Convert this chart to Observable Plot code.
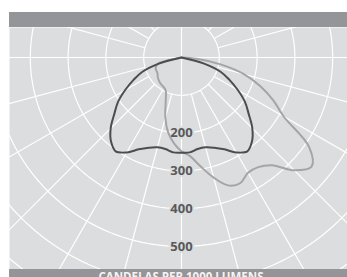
<!DOCTYPE html>
<html>
<head>
<meta charset="utf-8">
<script src="https://cdn.jsdelivr.net/npm/d3@7"></script>
<script src="https://cdn.jsdelivr.net/npm/@observablehq/plot@0.6"></script>
<style>
  html, body { margin: 0; padding: 0; background: #ffffff; }
  #wrap { position: relative; width: 347px; height: 277px; overflow: hidden; }
  #topband { position: absolute; left: 9px; top: 12px; width: 338px; height: 15px; background: #939598; }
  #botband { position: absolute; left: 9px; top: 269px; width: 338px; height: 8px; background: #939598; overflow: hidden; }
  #botband span { position: absolute; left: 0; width: 344px; top: 1.5px; text-align: center; color: #f4f4f4;
    font: 700 11.5px/12px "Open Sans", sans-serif; white-space: nowrap; }
  #chart { position: absolute; left: 0; top: 0; }
</style>
</head>
<body>
<div id="wrap">
  <div id="chart"></div>
  <div id="topband"></div>
  <div id="botband"><span id="unit"></span></div>
</div>
<script>
// Angle from nadir (degrees, negative = left) and candela per 1000 lumens
const angles = [-90,-85,-80,-75,-70,-65,-60,-55,-50,-45,-40,-35,-30,-25,-20,-15,-10,-5,0,5,10,15,20,25,30,35,40,45,50,55,60,65,70,75,80,85,90];
const darkCd = [0,0,0,62,110,140,172,205,232,265,290,303,290,268,254,246,246,252,252,252,246,246,254,268,290,303,290,265,232,205,172,140,110,62,0,0,0];
const lightCd = [0,0,0,66,72,75,75,77,82,85,88,90,92,98,122,165,202,228,248,262,293,329,360,367,352,354,372,422,449,412,312,268,222,172,105,40,0];
const ringValues = [100,200,300,400,500,600,700];
const ringLabels = [200,300,400,500];
const spokeStep = 15;
const unitText = "CANDELAS PER 1000 LUMENS";

const rad = Math.PI / 180;
const toXY = (a, r) => ({x: r * Math.sin(a * rad), y: r * Math.cos(a * rad)});

const dark = angles.map((a, i) => ({...toXY(a, darkCd[i]), s: "dark"}));
const light = angles.map((a, i) => ({...toXY(a, lightCd[i]), s: "light"}));

const rings = ringValues.flatMap(v => d3.range(0, 361, 2).map(a => ({...toXY(a, v), ring: v})));
const spokes = d3.range(0, 360, spokeStep).map(a => {
  const r0 = a % 90 === 0 ? 0 : 100;
  const p0 = toXY(a, r0), p1 = toXY(a, 1000);
  return {x1: p0.x, y1: p0.y, x2: p1.x, y2: p1.y};
});

const k = 0.378; // px per candela
const W = 347, H = 277, mL = 9, mR = 0, mT = 27, mB = 8;
const cx = 181, cy = 57;
const bg = "#dcdddf";

const chart = Plot.plot({
  width: W, height: H,
  marginLeft: mL, marginRight: mR, marginTop: mT, marginBottom: mB,
  style: {background: "transparent", fontFamily: "'Open Sans', sans-serif"},
  x: {domain: [-(cx - mL) / k, (W - mR - cx) / k], axis: null},
  y: {domain: [(H - mB - cy) / k, -(cy - mT) / k], axis: null},
  marks: [
    Plot.frame({fill: bg, stroke: null}),
    Plot.line(rings, {x: "x", y: "y", z: "ring", stroke: "#ffffff", strokeWidth: 1.2, clip: true}),
    Plot.link(spokes, {x1: "x1", y1: "y1", x2: "x2", y2: "y2", stroke: "#ffffff", strokeWidth: 1.2, clip: true}),
    Plot.text(ringLabels, {x: () => 0, y: d => d, text: d => String(d), fill: "#58595b",
      fontWeight: 700, fontSize: 13, stroke: bg, strokeWidth: 4, clip: true}),
    Plot.line(light, {x: "x", y: "y", stroke: "#a3a5a8", strokeWidth: 2, curve: "catmull-rom", clip: true}),
    Plot.line(dark, {x: "x", y: "y", stroke: "#4d4d4f", strokeWidth: 2, curve: "catmull-rom", clip: true})
  ]
});
document.getElementById("chart").append(chart);
document.getElementById("unit").textContent = unitText;
</script>
</body>
</html>
